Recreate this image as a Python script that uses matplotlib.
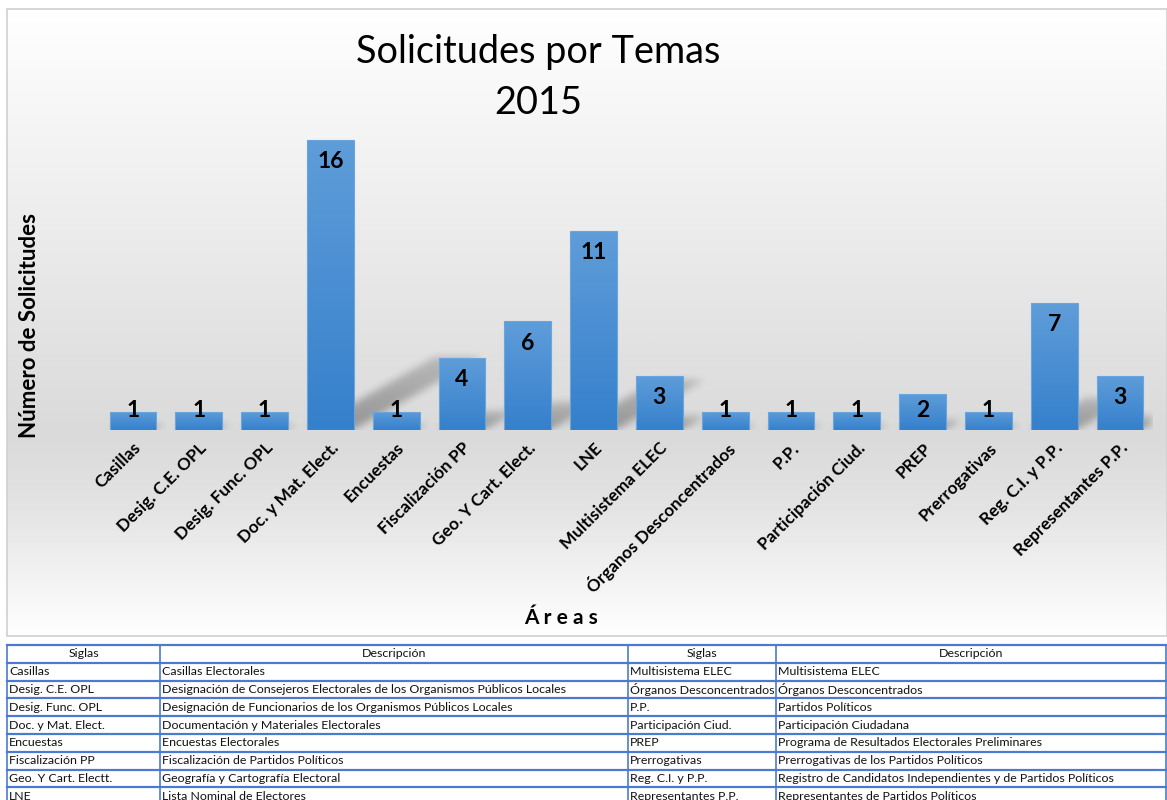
import numpy as np
import matplotlib
matplotlib.use("Agg")
import matplotlib.pyplot as plt
from matplotlib.patches import Rectangle
from matplotlib.colors import LinearSegmentedColormap

plt.rcParams['font.family'] = ['Lato', 'DejaVu Sans']

areas = ["Casillas", "Desig. C.E. OPL", "Desig. Func. OPL", "Doc. y Mat. Elect.",
         "Encuestas", "Fiscalización PP", "Geo. Y Cart. Elect.", "LNE",
         "Multisistema ELEC", "Órganos Desconcentrados", "P.P.", "Participación Ciud.",
         "PREP", "Prerrogativas", "Reg. C.I. y P.P.", "Representantes P.P."]
solicitudes = [1, 1, 1, 16, 1, 4, 6, 11, 3, 1, 1, 1, 2, 1, 7, 3]

siglas_izq = ["Casillas", "Desig. C.E. OPL", "Desig. Func. OPL", "Doc. y Mat. Elect.",
              "Encuestas", "Fiscalización PP", "Geo. Y Cart. Electt.", "LNE"]
desc_izq = ["Casillas Electorales",
            "Designación de Consejeros Electorales de los Organismos Públicos Locales",
            "Designación de Funcionarios de los Organismos Públicos Locales",
            "Documentación y Materiales Electorales",
            "Encuestas Electorales",
            "Fiscalización de Partidos Políticos",
            "Geografía y Cartografía Electoral",
            "Lista Nominal de Electores"]
siglas_der = ["Multisistema ELEC", "Órganos Desconcentrados", "P.P.", "Participación Ciud.",
              "PREP", "Prerrogativas", "Reg. C.I. y P.P.", "Representantes P.P."]
desc_der = ["Multisistema ELEC", "Órganos Desconcentrados", "Partidos Políticos",
            "Participación Ciudadana",
            "Programa de Resultados Electorales Preliminares",
            "Prerrogativas de los Partidos Políticos",
            "Registro de Candidatos Independientes y de Partidos Políticos",
            "Representantes de Partidos Políticos"]

W, H = 1167, 800
fig = plt.figure(figsize=(W / 100, H / 100), dpi=100)
fig.patch.set_facecolor("white")

# background / chart frame / table in pixel coords
bg = fig.add_axes([0, 0, 1, 1])
bg.set_xlim(0, W)
bg.set_ylim(H, 0)
bg.axis("off")

grad_cmap = LinearSegmentedColormap.from_list(
    "bg", [(0, "#ffffff"), (0.35, "#ececec"), (0.68, "#dadada"), (0.8, "#e4e4e4"), (1, "#ffffff")])
g = np.linspace(0, 1, 300).reshape(-1, 1)
bg.imshow(g, cmap=grad_cmap, aspect="auto", extent=[7, W, 636, 9], zorder=0)
bg.add_patch(Rectangle((7, 9), W - 7, 627, fill=False, edgecolor="#d0d0d0", lw=1.2, zorder=1))

# table
row_h = 17.8
top = 645
col_x = [7, 160, 628, 776, W - 1]
blue = "#4a7bd0"
for k in range(10):
    bg.plot([7, W], [top + k * row_h] * 2, color=blue, lw=1.6, zorder=2)
for cx in col_x:
    bg.plot([cx, cx], [top, H], color=blue, lw=1.2, zorder=2)
headers = ["Siglas", "Descripción", "Siglas", "Descripción"]
for j, hdr in enumerate(headers):
    bg.text((col_x[j] + col_x[j + 1]) / 2, top + row_h / 2, hdr, ha="center", va="center",
            fontsize=8.9, color="#111111")
cols = [siglas_izq, desc_izq, siglas_der, desc_der]
for j, col in enumerate(cols):
    for i, txt in enumerate(col):
        bg.text(col_x[j] + 2, top + (i + 1.5) * row_h, txt, ha="left", va="center",
                fontsize=8.9, color="#111111")

# main chart
ax = fig.add_axes([100 / W, 370 / H, 1053 / W, 326 / H])
ax.patch.set_alpha(0)
ax.set_xlim(-0.5, 15.5)
ax.set_ylim(0, 18)

x = np.arange(len(areas))
bw = 0.71

# soft perspective shadows
nx, ny = 1053, 326
gx = np.linspace(-0.5, 15.5, nx)
gy = np.linspace(0, 18, ny)
GX, GY = np.meshgrid(gx, gy)
mask = np.zeros_like(GX)
for xi, v in zip(x, solicitudes):
    t = GY / 0.25
    inside = (t <= v) & (GX - t * 0.1207 >= xi - bw / 2) & (GX - t * 0.1207 <= xi + bw / 2)
    mask = np.maximum(mask, inside * (1 - 0.45 * t / max(v, 1)))
k = np.ones(9) / 9
for _ in range(2):
    mask = np.apply_along_axis(lambda r: np.convolve(r, k, mode="same"), 1, mask)
    mask = np.apply_along_axis(lambda c: np.convolve(c, k, mode="same"), 0, mask)
shadow = np.zeros((ny, nx, 4))
shadow[..., 3] = mask * 0.32
ax.imshow(shadow, extent=[-0.5, 15.5, 0, 18], origin="lower", aspect="auto", zorder=1)

bar_cmap = LinearSegmentedColormap.from_list("bar", ["#3580cc", "#5f9dd9"])
bars = ax.bar(x, solicitudes, width=bw, color="none", edgecolor="#6aa6de", lw=0.8, zorder=3)
for b in bars:
    im = ax.imshow(np.linspace(0, 1, 100).reshape(-1, 1), cmap=bar_cmap, origin="lower",
                   aspect="auto", extent=[b.get_x(), b.get_x() + b.get_width(), 0, b.get_height()],
                   zorder=2)
    im.set_clip_path(b)

for xi, v in zip(x, solicitudes):
    ax.text(xi, max(v - 1.2, 1.1), str(v), ha="center", va="center",
            fontsize=16.5, fontweight="bold", color="black", zorder=4)

ax.set_xlim(-0.5, 15.5)
ax.set_ylim(0, 18)
ax.set_xticks(x)
ax.set_xticklabels(areas, rotation=45, ha="right", rotation_mode="anchor",
                   fontsize=12.3, fontweight="bold")
ax.tick_params(axis="x", length=0, pad=7)
ax.set_yticks([])
for s in ax.spines.values():
    s.set_visible(False)

fig.text(538 / W, 1 - 52 / H, "Solicitudes por Temas", ha="center", va="center", fontsize=27.3)
fig.text(538 / W, 1 - 103 / H, "2015", ha="center", va="center", fontsize=27.3)
fig.text(30 / W, 1 - 325 / H, "Número de Solicitudes", rotation=90, ha="center", va="center",
         fontsize=16, fontweight="bold")
fig.text(561 / W, 1 - 618 / H, "Á r e a s", ha="center", va="center",
         fontsize=15, fontweight="bold")

fig.savefig("out.png", dpi=100)
